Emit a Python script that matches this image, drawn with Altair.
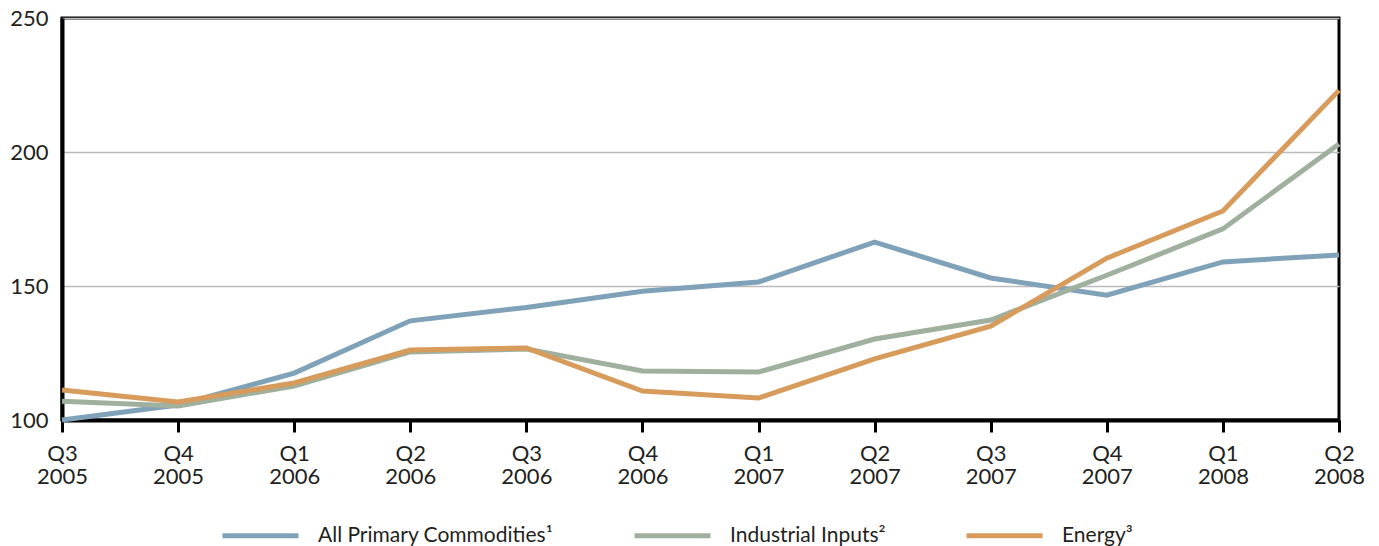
import altair as alt
import pandas as pd

quarters = ["Q3|2005", "Q4|2005", "Q1|2006", "Q2|2006", "Q3|2006", "Q4|2006",
            "Q1|2007", "Q2|2007", "Q3|2007", "Q4|2007", "Q1|2008", "Q2|2008"]
all_primary = [100.0, 105.6, 117.5, 137.0, 142.0, 148.0, 151.5, 166.4, 153.0, 146.6, 159.0, 161.6]
industrial = [107.0, 105.2, 112.7, 125.4, 126.5, 118.3, 117.9, 130.2, 137.3, 154.0, 171.3, 203.0]
energy = [111.2, 106.7, 113.8, 126.1, 126.9, 110.8, 108.2, 122.8, 135.0, 160.4, 178.0, 223.0]
series_names = ["All Primary Commodities\u00b9", "Industrial Inputs\u00b2", "Energy\u00b3"]
colors = ["#7fa2b9", "#9fb09e", "#d79b5c"]

rows = []
for name, vals, order in zip(series_names, [all_primary, industrial, energy], [3, 2, 1]):
    for i, v in enumerate(vals):
        rows.append({"idx": i, "series": name, "value": v, "z": order})
df = pd.DataFrame(rows)

label_arr = "[" + ",".join("'" + q + "'" for q in quarters) + "]"
FONT = "Lato"
TXT = "#231f20"

base = alt.Chart(df)

lines = base.mark_line(strokeWidth=5, strokeCap="butt", strokeJoin="miter").encode(
    x=alt.X("idx:Q", scale=alt.Scale(domain=[0, 11], nice=False, zero=False),
            axis=alt.Axis(values=list(range(12)), title=None,
                          labelExpr="split(" + label_arr + "[datum.value], '|')",
                          grid=False, ticks=True, tickSize=12, tickWidth=3, tickColor="black",
                          domainColor="black", domainWidth=4,
                          labelFont=FONT, labelFontSize=22, labelColor=TXT,
                          labelPadding=11, labelLineHeight=23, labelBaseline="top",
                          labelFlush=False, labelOverlap=False)),
    y=alt.Y("value:Q", scale=alt.Scale(domain=[100, 250], nice=False, zero=False),
            axis=alt.Axis(values=[100, 150, 200, 250], title=None,
                          grid=True, gridColor="#bbbbbb", gridWidth=1.5,
                          ticks=False, domainColor="black", domainWidth=4,
                          labelFont=FONT, labelFontSize=22, labelColor=TXT,
                          labelPadding=14, labelFlush=False)),
    color=alt.Color("series:N",
                    scale=alt.Scale(domain=series_names, range=colors),
                    legend=alt.Legend(orient="none", legendX=158, legendY=477,
                                      direction="horizontal", title=None,
                                      symbolType="stroke", symbolSize=5776,
                                      symbolStrokeWidth=5, labelFont=FONT,
                                      labelFontSize=21, labelColor=TXT,
                                      labelOffset=17, columnPadding=70,
                                      labelLimit=400, padding=0)),
    detail="series:N",
    order=alt.Order("z:Q"),
)

chart = lines.properties(
    width=1277, height=402,
    background="white",
    autosize=alt.AutoSizeParams(type="none"),
    padding={"left": 62, "top": 18, "right": 40, "bottom": 126},
).configure_view(stroke="black", strokeWidth=3)

chart.save("out.html", embed_options={"renderer": "svg", "actions": False})
